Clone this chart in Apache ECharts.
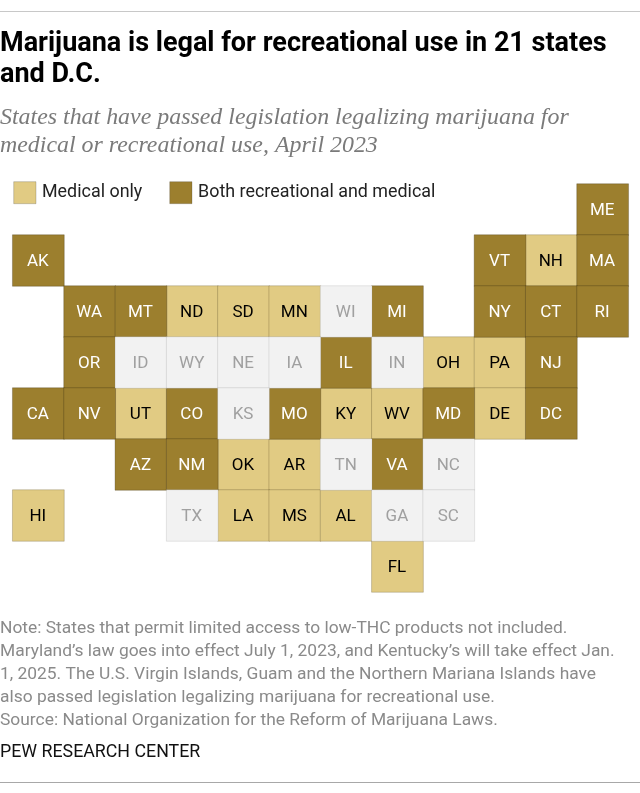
<!DOCTYPE html>
<html>
<head>
<meta charset="utf-8">
<style>html,body{margin:0;padding:0;background:#fff}#chart{width:640px;height:793px}</style>
<script src="https://cdn.jsdelivr.net/npm/echarts@6/dist/echarts.min.js"></script>
</head>
<body>
<div id="chart"></div>
<script>
// tile map, one list per row, '' is an empty slot
const tileRows = [
  ['', '', '', '', '', '', '', '', '', '', '', 'ME'],
  ['AK', '', '', '', '', '', '', '', '', 'VT', 'NH', 'MA'],
  ['', 'WA', 'MT', 'ND', 'SD', 'MN', 'WI', 'MI', '', 'NY', 'CT', 'RI'],
  ['', 'OR', 'ID', 'WY', 'NE', 'IA', 'IL', 'IN', 'OH', 'PA', 'NJ', ''],
  ['CA', 'NV', 'UT', 'CO', 'KS', 'MO', 'KY', 'WV', 'MD', 'DE', 'DC', ''],
  ['', '', 'AZ', 'NM', 'OK', 'AR', 'TN', 'VA', 'NC', '', '', ''],
  ['HI', '', '', 'TX', 'LA', 'MS', 'AL', 'GA', 'SC', '', '', ''],
  ['', '', '', '', '', '', '', 'FL', '', '', '', '']
];
const medicalOnly = ['NH', 'ND', 'SD', 'MN', 'OH', 'PA', 'UT', 'KY', 'WV', 'DE', 'OK', 'AR', 'HI', 'LA', 'MS', 'AL', 'FL'];
const bothUses = ['ME', 'AK', 'VT', 'MA', 'WA', 'MT', 'MI', 'NY', 'CT', 'RI', 'OR', 'IL', 'NJ', 'CA', 'NV', 'CO', 'MO', 'MD', 'DC', 'AZ', 'NM', 'VA'];
const neither = ['WI', 'ID', 'WY', 'NE', 'IA', 'IN', 'KS', 'TN', 'NC', 'TX', 'GA', 'SC'];

const titleLines = ['Marijuana is legal for recreational use in 21 states', 'and D.C.'];
const subtitleLines = ['States that have passed legislation legalizing marijuana for', 'medical or recreational use, April 2023'];
const noteLines = [
  'Note: States that permit limited access to low-THC products not included.',
  'Maryland\u2019s law goes into effect July 1, 2023, and Kentucky\u2019s will take effect Jan.',
  '1, 2025. The U.S. Virgin Islands, Guam and the Northern Mariana Islands have',
  'also passed legislation legalizing marijuana for recreational use.',
  'Source: National Organization for the Reform of Marijuana Laws.'
];

const sans = 'Roboto';

function tilesFor(states) {
  const out = [];
  tileRows.forEach((row, r) => row.forEach((st, c) => {
    if (states.includes(st)) out.push({ value: [c, r, 1], name: st });
  }));
  return out;
}

function tileSeries(name, states, fill, edge, textColor) {
  return {
    name: name,
    type: 'heatmap',
    data: tilesFor(states),
    itemStyle: { color: fill, borderColor: edge, borderWidth: 0.8 },
    label: {
      show: true,
      formatter: p => p.name,
      color: textColor,
      fontFamily: sans,
      fontSize: 17,
      offset: [-0.5, 1]
    },
    emphasis: { disabled: true }
  };
}

function textLine(str, y, style) {
  return { type: 'text', x: 0, y: y, style: Object.assign({ text: str, verticalAlign: 'middle' }, style) };
}

const graphics = [
  { type: 'line', shape: { x1: 0, y1: 11.5, x2: 640, y2: 11.5 }, style: { stroke: '#c8c8c8', lineWidth: 1 } },
  { type: 'line', shape: { x1: 0, y1: 782.5, x2: 640, y2: 782.5 }, style: { stroke: '#a8a8a8', lineWidth: 1 } }
];
titleLines.forEach((t, i) => graphics.push(textLine(t, 44 + i * 31, {
  fontFamily: sans, fontWeight: 'bold', fontSize: 27, fill: '#000'
})));
subtitleLines.forEach((t, i) => graphics.push(textLine(t, 118 + i * 28, {
  fontFamily: 'Liberation Serif', fontStyle: 'italic', fontSize: 23.9, fill: '#7a7a7a'
})));
noteLines.forEach((t, i) => graphics.push(textLine(t, 629 + i * 22.8, {
  fontFamily: sans, fontSize: 17.4, fill: '#8a8a8a'
})));
graphics.push(textLine('PEW RESEARCH CENTER', 753, { fontFamily: sans, fontSize: 17.8, fill: '#111' }));

const chart = echarts.init(document.getElementById('chart'), null, { renderer: 'canvas' });
chart.setOption({
  animation: false,
  grid: { left: 12.7, top: 184, width: 615.6, height: 408 },
  xAxis: {
    type: 'category',
    data: tileRows[0].map((_, i) => i),
    show: false
  },
  yAxis: {
    type: 'category',
    inverse: true,
    data: tileRows.map((_, i) => i),
    show: false
  },
  legend: {
    left: 13.3,
    top: 181.3,
    padding: 0,
    itemWidth: 22.3,
    itemHeight: 22,
    itemGap: 27,
    icon: 'rect',
    selectedMode: false,
    data: ['Medical only', 'Both recreational and medical'],
    itemStyle: { borderColor: 'rgba(60,60,60,0.3)', borderWidth: 0.8 },
    textStyle: { fontFamily: sans, fontSize: 17.9, color: '#222', padding: [2, 0, 0, 1] }
  },
  series: [
    tileSeries('Medical only', medicalOnly, '#e1cb83', 'rgba(70,60,30,0.3)', '#000'),
    tileSeries('Both recreational and medical', bothUses, '#9c7f2e', 'rgba(50,40,20,0.35)', '#fff'),
    tileSeries('No legal use', neither, '#f2f2f2', 'rgba(120,120,120,0.22)', '#a0a0a0')
  ],
  graphic: graphics
});
</script>
</body>
</html>
